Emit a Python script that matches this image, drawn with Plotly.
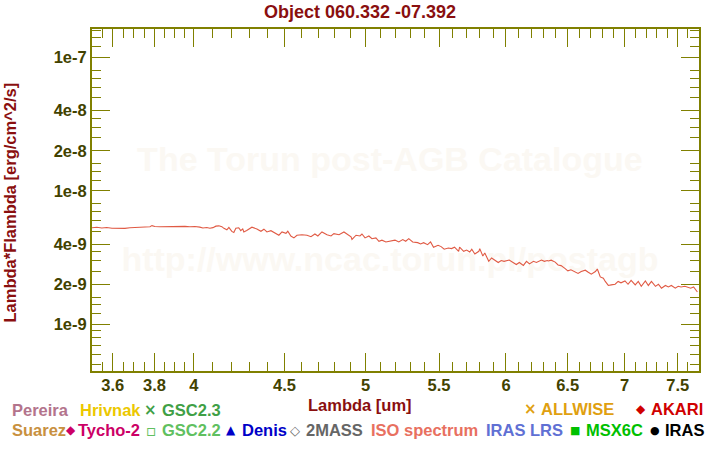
import math
import plotly.graph_objects as go

# ---------------- data ----------------
iso_wavelength_um = [
    3.504, 3.526, 3.549, 3.572, 3.596, 3.624, 3.657, 3.681, 3.705, 3.729,
    3.758, 3.778, 3.788, 3.802, 3.827, 3.852, 3.877, 3.902, 3.928, 3.954,
    3.979, 4.005, 4.031, 4.047, 4.068, 4.084, 4.100, 4.116, 4.132, 4.148,
    4.159, 4.175, 4.186, 4.202, 4.213, 4.224, 4.240, 4.251, 4.262,
    4.268, 4.284, 4.313, 4.341, 4.364, 4.381, 4.398, 4.421, 4.450, 4.467,
    4.485, 4.508, 4.519, 4.537, 4.555, 4.573, 4.603, 4.633, 4.657, 4.681,
    4.699, 4.724, 4.755, 4.780, 4.798, 4.830, 4.861, 4.880, 4.906, 4.912,
    4.938, 4.963, 4.976, 4.996, 5.021, 5.041, 5.067, 5.087, 5.107, 5.133,
    5.167, 5.194,
    5.200, 5.220, 5.247, 5.267, 5.288, 5.315, 5.350, 5.370, 5.391, 5.419,
    5.440, 5.461, 5.493, 5.515, 5.537, 5.567, 5.590, 5.612, 5.642, 5.649,
    5.679, 5.701, 5.724, 5.739, 5.762, 5.792, 5.799, 5.822, 5.837, 5.867,
    5.889, 5.911, 5.940, 5.963, 5.985, 6.025, 6.057, 6.081, 6.105, 6.137,
    6.162, 6.186, 6.218, 6.242, 6.283, 6.307, 6.331,
    6.339, 6.363, 6.396, 6.420, 6.445, 6.477, 6.502, 6.528, 6.563, 6.589,
    6.616, 6.651, 6.677, 6.703, 6.739, 6.756, 6.782, 6.809, 6.826, 6.853,
    6.879, 6.914, 6.941, 6.967, 7.003, 7.031, 7.059, 7.097, 7.125, 7.153,
    7.191, 7.219, 7.248, 7.286, 7.314, 7.343, 7.381, 7.409, 7.438, 7.476,
    7.504, 7.532, 7.570, 7.599, 7.627, 7.656, 7.675, 7.694,
]
iso_flux_1e9 = [
    5.30, 5.35, 5.28, 5.33, 5.25, 5.24, 5.24, 5.30, 5.33, 5.35,
    5.38, 5.40, 5.50, 5.41, 5.40, 5.42, 5.40, 5.44, 5.41, 5.43,
    5.39, 5.42, 5.36, 5.28, 5.33, 5.26, 5.31, 5.45, 5.48, 5.40,
    5.25, 5.12, 5.34, 4.98, 4.88, 5.25, 5.30, 5.05, 5.20,
    4.93, 5.06, 5.35, 5.19, 4.99, 5.17, 4.93, 5.04, 4.76, 4.66,
    4.93, 4.82, 4.99, 4.60, 4.45, 4.66, 4.70, 4.66, 4.54, 4.76,
    4.60, 4.93, 4.70, 4.60, 4.79, 4.70, 4.93, 4.76, 4.54, 4.33,
    4.66, 4.60, 4.76, 4.45, 4.60, 4.39, 4.45, 4.20, 4.28, 4.15,
    4.25, 4.28,
    4.25, 4.15, 4.32, 4.20, 4.39, 4.15, 4.10, 4.01, 4.10, 3.96,
    4.15, 3.79, 3.92, 3.83, 3.66, 3.74, 3.70, 3.79, 3.53, 3.79,
    3.53, 3.61, 3.49, 3.66, 3.37, 3.53, 3.70, 3.26, 3.43, 2.97,
    3.15, 3.04, 2.91, 3.01, 2.97, 3.04, 2.91, 2.81, 2.91, 2.77,
    2.97, 2.84, 2.97, 2.91, 3.04, 2.97, 3.01,
    2.99, 3.03, 2.93, 2.79, 2.76, 2.63, 2.52, 2.57, 2.49, 2.41,
    2.49, 2.55, 2.46, 2.38, 2.49, 2.60, 2.27, 2.22, 2.10, 1.96,
    1.98, 2.00, 2.10, 2.05, 2.12, 2.00, 2.14, 1.98, 2.10, 1.93,
    2.12, 1.96, 2.10, 1.93, 2.00, 1.87, 1.96, 1.91, 1.96, 1.87,
    1.93, 1.91, 1.93, 1.91, 1.87, 1.91, 1.82, 1.75,
]
iso_flux = [v * 1e-9 for v in iso_flux_1e9]

x_major_ticks = [3.6, 3.8, 4, 4.5, 5, 5.5, 6, 6.5, 7, 7.5]
x_major_labels = ["3.6", "3.8", "4", "4.5", "5", "5.5", "6", "6.5", "7", "7.5"]
x_minor_ticks = [3.55, 3.65, 3.7, 3.75, 3.85, 3.9, 3.95,
                 4.1, 4.2, 4.3, 4.4, 4.6, 4.7, 4.8, 4.9,
                 5.1, 5.2, 5.3, 5.4, 5.6, 5.7, 5.8, 5.9,
                 6.1, 6.2, 6.3, 6.4, 6.6, 6.7, 6.8, 6.9,
                 7.1, 7.2, 7.3, 7.4, 7.6, 7.7]
y_major_ticks = [1e-9, 2e-9, 4e-9, 1e-8, 2e-8, 4e-8, 1e-7]
y_major_labels = ["1e-9", "2e-9", "4e-9", "1e-8", "2e-8", "4e-8", "1e-7"]
y_minor_ticks = [5e-10, 6e-10, 7e-10, 8e-10, 9e-10,
                 1.2e-9, 1.4e-9, 1.6e-9, 2.5e-9, 3e-9, 3.5e-9,
                 5e-9, 6e-9, 7e-9, 8e-9,
                 1.2e-8, 1.4e-8, 1.6e-8, 2.5e-8, 3e-8, 3.5e-8,
                 5e-8, 6e-8, 7e-8, 8e-8, 1.2e-7, 1.4e-7, 1.6e-7]
x_range_um = [3.504, 7.71]
y_range = [4.48e-10, 1.634e-7]

legend_labels = ["Pereira", "Hrivnak", "GSC2.3", "ALLWISE", "AKARI",
                 "Suarez", "Tycho-2", "GSC2.2", "Denis", "2MASS",
                 "ISO spectrum", "IRAS LRS", "MSX6C", "IRAS"]

title_text = "Object 060.332 -07.392"
watermark_lines = ["The Torun post-AGB Catalogue", "http://www.ncac.torun.pl/postagb"]
watermark_x = [5.16, 5.16]
watermark_y = [1.62e-8, 2.9e-9]

# ---------------- styling / layout ----------------
W, H = 720, 450
L, R, T, B = 92, 21, 29, 79
PW = W - L - R
PH = H - T - B
OLIVE = "#808000"
TICKC = "#424200"
DARKRED = "#8a0f0f"
FONT = "Liberation Sans, Arial, sans-serif"


def px_to_paper_x(px):
    return (px - L) / PW


def py_to_paper_y(py):
    return 1 - (py - T) / PH


fig = go.Figure()

# faint watermark (drawn beneath the spectrum)
fig.add_trace(go.Scatter(
    x=watermark_x, y=watermark_y, mode="text", text=watermark_lines,
    textfont=dict(family=FONT, size=34, color="#fbf8f3", weight="bold"),
    hoverinfo="skip", showlegend=False,
))

fig.add_trace(go.Scatter(
    x=iso_wavelength_um, y=iso_flux, mode="lines",
    line=dict(color="#e05a44", width=1.1),
    showlegend=False, name="ISO spectrum",
))

axis_common = dict(
    showline=True, linecolor=OLIVE, linewidth=2, mirror="allticks",
    ticks="inside", ticklen=18, tickwidth=1, tickcolor=OLIVE,
    showgrid=False, zeroline=False,
    tickfont=dict(family=FONT, size=16.5, color=TICKC, weight="bold"),
)

fig.update_layout(
    width=W, height=H,
    margin=dict(l=L, r=R, t=T, b=B, pad=0),
    paper_bgcolor="white", plot_bgcolor="white",
    showlegend=False,
    title=dict(text=title_text, x=0.5, xref="container", xanchor="center",
               y=1 - 11.5 / H, yref="container", yanchor="middle",
               font=dict(family=FONT, size=18, color=DARKRED, weight="bold")),
    xaxis=dict(type="log",
               range=[math.log10(x_range_um[0]), math.log10(x_range_um[1])],
               tickmode="array", tickvals=x_major_ticks, ticktext=x_major_labels,
               ticklabelstandoff=-2,
               minor=dict(tickmode="array", tickvals=x_minor_ticks, ticks="inside",
                          ticklen=9, tickwidth=1, tickcolor=OLIVE, showgrid=False),
               **axis_common),
    yaxis=dict(type="log",
               range=[math.log10(y_range[0]), math.log10(y_range[1])],
               tickmode="array", tickvals=y_major_ticks, ticktext=y_major_labels,
               minor=dict(tickmode="array", tickvals=y_minor_ticks, ticks="inside",
                          ticklen=9, tickwidth=1, tickcolor=OLIVE, showgrid=False),
               **axis_common),
)

# axis titles
fig.add_annotation(text="Lambda [um]", xref="paper", yref="paper",
                   x=px_to_paper_x(359.5), y=py_to_paper_y(405),
                   xanchor="center", yanchor="middle", showarrow=False,
                   font=dict(family=FONT, size=16.5, color=DARKRED, weight="bold"))
fig.add_annotation(text="Lambda*Flambda [erg/cm^2/s]", xref="paper", yref="paper",
                   x=px_to_paper_x(9.5), y=py_to_paper_y(203), textangle=-90,
                   xanchor="center", yanchor="middle", showarrow=False,
                   font=dict(family=FONT, size=16.5, color=DARKRED, weight="bold"))

# legend built from text annotations: (label index, colour, symbol, symbol px, label px, row y)
legend_specs = [
    (0, "#b3748c", None, None, 10, 410),
    (1, "#ecc800", None, None, 78, 410),
    (2, "#3fa046", "×", 150.5, 160, 410),
    (3, "#e0a010", "×", 530.5, 539, 409),
    (4, "#d00000", "◆", 641, 649, 409),
    (5, "#c89040", None, None, 10, 430),
    (6, "#cc0066", "◆", 70.5, 76, 430),
    (7, "#60c060", "▫", 151, 160, 430),
    (8, "#0000c8", "▲", 231, 240, 430),
    (9, "#666666", "◇", 295, 304, 430),
    (10, "#e87060", None, None, 369, 430),
    (11, "#6070d4", None, None, 484, 430),
    (12, "#00c000", "■", 575, 584, 430),
    (13, "#000000", "●", 655, 663, 430),
]
sym_sizes = {"×": 15, "◆": 12, "▫": 16, "▲": 12, "◇": 13, "■": 11, "●": 11}
for idx, col, sym, spx, lpx, ry in legend_specs:
    fig.add_annotation(text=legend_labels[idx], xref="paper", yref="paper",
                       x=px_to_paper_x(lpx), y=py_to_paper_y(ry),
                       xanchor="left", yanchor="middle", showarrow=False,
                       font=dict(family=FONT, size=16.5, color=col, weight="bold"))
    if sym:
        fig.add_annotation(text=sym, xref="paper", yref="paper",
                           x=px_to_paper_x(spx), y=py_to_paper_y(ry),
                           xanchor="center", yanchor="middle", showarrow=False,
                           font=dict(family="DejaVu Sans", size=sym_sizes[sym],
                                     color=col, weight="bold"))

fig.write_html("out.html", config={"displayModeBar": False},
               post_script="document.body.style.margin='0';document.body.style.padding='0';")
